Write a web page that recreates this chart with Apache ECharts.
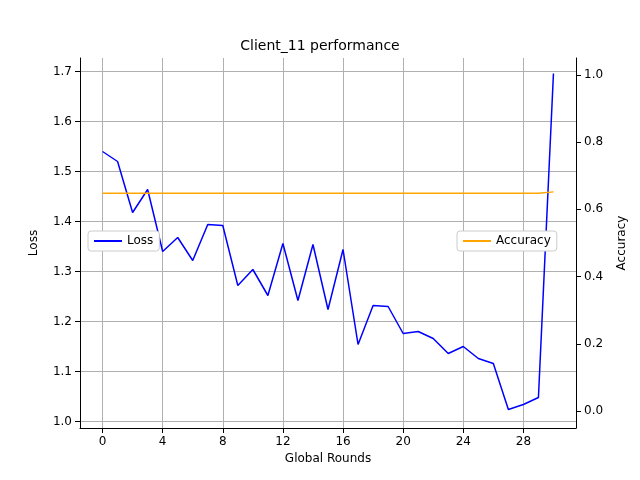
<!DOCTYPE html>
<html><head><meta charset="utf-8">
<script src="https://cdn.jsdelivr.net/npm/echarts@6/dist/echarts.min.js"></script>
<style>body{margin:0}#c{width:640px;height:480px}</style></head>
<body><div id="c"></div>
<script>
var rounds = [];
for (var i = 0; i <= 30; i++) rounds.push(i);
var loss = [1.54,1.52,1.418,1.464,1.34,1.368,1.322,1.394,1.392,1.272,1.304,1.252,1.356,1.242,1.354,1.224,1.344,1.154,1.232,1.23,1.176,1.18,1.166,1.136,1.15,1.126,1.116,1.024,1.034,1.048,1.696];
var accuracy = [0.648,0.648,0.648,0.648,0.648,0.648,0.648,0.648,0.648,0.648,0.648,0.648,0.648,0.648,0.648,0.648,0.648,0.648,0.648,0.648,0.648,0.648,0.648,0.648,0.648,0.648,0.648,0.648,0.648,0.648,0.652];
var xTicks = [0,4,8,12,16,20,24,28];
var lossTicks = [1.0,1.1,1.2,1.3,1.4,1.5,1.6,1.7];
var accTicks = [0,0.2,0.4,0.6,0.8,1.0];

var myChart = echarts.init(document.getElementById('c'));
var txt = {color:'#000', fontFamily:'DejaVu Sans', fontSize:12};
myChart.setOption({
    animation: false,
    title: {text:'Client_11 performance', left:'center', top:34, textStyle:{fontFamily:'DejaVu Sans', fontSize:14, fontWeight:'normal', color:'#000'}},
    grid: {left:80, right:64, top:58, bottom:52},
    legend: [
        {data:[{name:'Loss', icon:'rect'}], left:88, top:231, itemWidth:28, itemHeight:2, textStyle:txt,
         borderColor:'#ccc', borderWidth:1, borderRadius:3, padding:[4,6], backgroundColor:'#fff'},
        {data:[{name:'Accuracy', icon:'rect'}], left:457, top:231, itemWidth:28, itemHeight:2, textStyle:txt,
         borderColor:'#ccc', borderWidth:1, borderRadius:3, padding:[4,6], backgroundColor:'#fff'}
    ],
    xAxis: {type:'value', min:-1.5, max:31.5, name:'Global Rounds', nameLocation:'middle', nameGap:22, nameTextStyle:txt,
        axisLine:{onZero:false, lineStyle:{color:'#000'}},
        axisTick:{customValues:xTicks, lineStyle:{color:'#000'}},
        axisLabel:{customValues:xTicks, color:'#000', fontFamily:'DejaVu Sans'},
        splitLine:{show:true, lineStyle:{color:'#b0b0b0'}}},
    yAxis: [
        {type:'value', min:0.987, max:1.727, name:'Loss', nameLocation:'middle', nameGap:40, nameTextStyle:txt,
         axisLine:{show:true, onZero:false, lineStyle:{color:'#000'}},
         axisTick:{show:true, customValues:lossTicks},
         axisLabel:{color:'#000', fontFamily:'DejaVu Sans', customValues:lossTicks, formatter:function(v){return v.toFixed(1);}},
         splitLine:{show:true, lineStyle:{color:'#b0b0b0'}}},
        {type:'value', min:-0.05, max:1.05, name:'Accuracy', nameLocation:'middle', nameGap:40, nameTextStyle:txt,
         axisLine:{show:true, onZero:false, lineStyle:{color:'#000'}},
         axisTick:{show:true, customValues:accTicks},
         axisLabel:{color:'#000', fontFamily:'DejaVu Sans', customValues:accTicks, formatter:function(v){return v.toFixed(1);}},
         splitLine:{show:false}}
    ],
    series: [
        {name:'Loss', type:'line', yAxisIndex:0, symbol:'none', color:'#0000ff', lineStyle:{width:1.5},
         data: rounds.map(function(r,i){return [r, loss[i]];})},
        {name:'Accuracy', type:'line', yAxisIndex:1, symbol:'none', color:'#ffa500', lineStyle:{width:1.5},
         data: rounds.map(function(r,i){return [r, accuracy[i]];})}
    ]
});
</script></body></html>
